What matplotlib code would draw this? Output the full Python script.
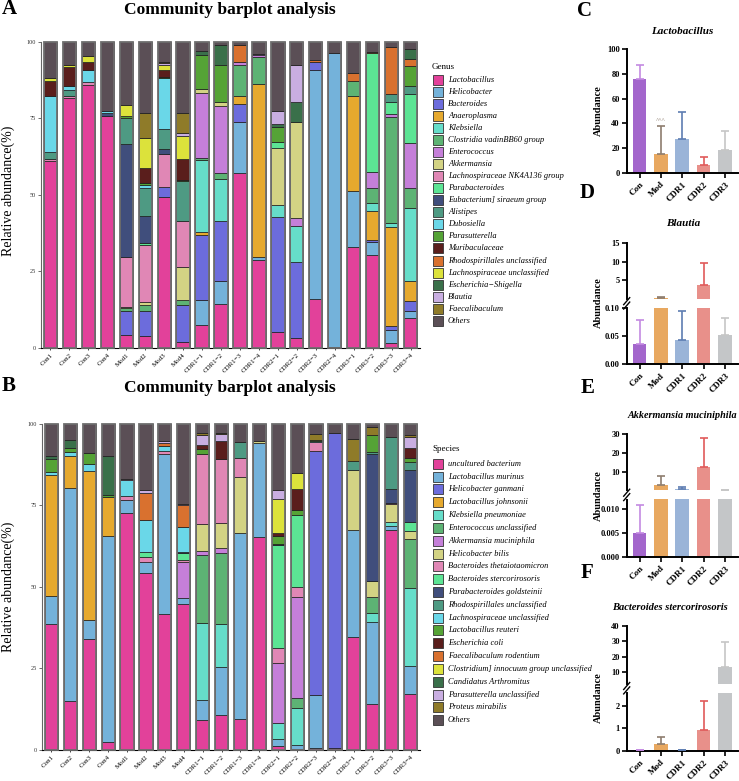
import numpy as np
import matplotlib
matplotlib.use('Agg')
import matplotlib.pyplot as plt
from matplotlib.lines import Line2D
from matplotlib.patches import Rectangle

plt.rcParams['font.family'] = ['Liberation Serif', 'DejaVu Serif']

# ---------------- data: panels A / B ----------------
samples = ['Con1', 'Con2', 'Con3', 'Con4', 'Mod1', 'Mod2', 'Mod3', 'Mod4',
           'CDR1−1', 'CDR1−2', 'CDR1−3', 'CDR1−4', 'CDR2−1', 'CDR2−2', 'CDR2−3', 'CDR2−4',
           'CDR3−1', 'CDR3−2', 'CDR3−3', 'CDR3−4']

genus_names = ['Lactobacillus', 'Helicobacter', 'Bacteroides', 'Anaeroplasma', 'Klebsiella',
               'Clostridia vadinBB60 group', 'Enterococcus', 'Akkermansia',
               'Lachnospiraceae NK4A136 group', 'Parabacteroides', 'Eubacterium] siraeum group',
               'Alistipes', 'Dubosiella', 'Parasutterella', 'Muribaculaceae',
               'Rhodospirillales unclassified', 'Lachnospiraceae unclassified',
               'Escherichia−Shigella', 'Blautia', 'Faecalibaculum', 'Others']

g_lactobacillus = [61.0, 81.7, 85.8, 75.9, 4.1, 3.9, 49.2, 2.0, 7.4, 14.4, 57.2, 28.6, 5.2, 3.2, 16.0, 0.2, 33.1, 30.4, 1.6, 9.7]
g_helicobacter = [0, 0, 0, 0, 0, 0, 0, 0, 8.3, 7.5, 16.5, 1.0, 0, 0, 74.8, 96.2, 18.2, 4.2, 4.2, 2.5]
g_bacteroides = [0, 0, 0, 0, 8.1, 8.1, 3.3, 11.9, 21.1, 19.7, 6.1, 0, 37.6, 24.8, 2.7, 0, 0, 0.8, 1.4, 3.2]
g_anaeroplasma = [0, 0, 0, 0, 0, 0, 0, 0, 1.0, 0, 2.4, 56.7, 0, 0, 0, 0, 31.1, 9.3, 32.2, 6.4]
g_klebsiella = [0, 0, 0, 0, 0, 0, 0, 0, 23.7, 13.6, 0, 0, 3.8, 11.8, 0, 0, 0, 2.7, 1.3, 24.1]
g_clostridia = [0, 0, 0, 0, 0.8, 2.2, 0, 1.9, 0.7, 1.9, 10.2, 8.8, 0, 0, 0, 0, 5.0, 4.9, 34.8, 6.4]
g_enterococcus = [0, 0, 0, 0, 0, 0, 0, 0, 21.1, 21.9, 1.2, 0.5, 0, 2.8, 0, 0, 0, 5.1, 1.1, 14.8]
g_akkermansia = [0, 0, 0, 0, 0.5, 0.8, 0, 10.6, 1.3, 1.5, 0, 0, 18.8, 31.1, 0, 0, 0, 0, 0, 0]
g_nk4a136 = [0.9, 0.8, 1.1, 0, 16.3, 18.6, 10.8, 15.0, 0, 0, 0, 0, 0, 0, 0, 0, 0, 0, 0, 0]
g_parabacteroides = [0, 0, 0, 0, 0, 0.6, 0, 0, 0, 0, 0, 0, 1.8, 0, 0, 0, 0, 39.0, 3.8, 15.8]
g_eubacterium = [0, 0, 0, 0.8, 36.9, 8.8, 1.7, 0, 0, 0, 0, 0, 0, 0, 0, 0, 0, 0, 0, 0]
g_alistipes = [2.1, 1.9, 0, 0, 8.5, 9.3, 6.6, 13.1, 0, 0, 0, 0, 0, 0, 0, 0, 0, 0, 2.6, 2.6]
g_dubosiella = [18.5, 1.1, 3.9, 0.6, 0, 0.9, 16.5, 0, 0, 0, 0, 0, 0, 0, 0, 0, 0, 0, 0, 0]
g_parasutterella = [0, 0, 0, 0, 0.5, 0.7, 0.6, 0.5, 11.3, 11.9, 0, 0, 5.0, 0, 0, 0, 0, 0, 0, 6.5]
g_muribaculaceae = [4.9, 6.2, 2.6, 0, 0, 4.8, 2.1, 6.8, 0, 0, 0, 0, 0, 0, 0, 0, 0, 0, 0, 0]
g_rhodospirillales = [0, 0, 0, 0, 0, 0, 0, 0, 0, 0, 5.3, 0, 0, 0, 0.5, 0, 2.6, 0.4, 15.4, 2.4]
g_lachno_uncl = [0.7, 0.8, 1.9, 0, 3.6, 9.9, 1.6, 7.6, 0, 0, 0, 0, 0, 0, 0, 0, 0, 0, 0, 0]
g_escherichia = [0, 0, 0, 0, 0, 0, 0, 0, 1.1, 6.5, 0, 0, 1.1, 6.7, 0, 0, 0, 0, 0, 3.3]
g_blautia = [0, 0, 0, 0, 0, 0, 0.6, 0.7, 0, 0, 0, 0.6, 4.0, 12.0, 0, 0, 0, 0, 0, 0]
g_faecalibaculum = [0, 0, 0, 0, 0, 8.1, 0.5, 6.7, 0, 0, 0, 0, 0, 0, 0, 0, 0, 0, 0, 0]
g_others = [11.9, 7.5, 4.7, 22.7, 20.7, 23.3, 6.5, 23.2, 3.0, 1.1, 1.1, 3.8, 22.7, 7.6, 6.0, 3.6, 10.0, 3.2, 1.6, 2.3]

species_names = ['uncultured bacterium', 'Lactobacillus murinus', 'Helicobacter ganmani',
                 'Lactobacillus johnsonii', 'Klebsiella pneumoniae', 'Enterococcus unclassified',
                 'Akkermansia muciniphila', 'Helicobacter bilis', 'Bacteroides thetaiotaomicron',
                 'Bacteroides stercorirosoris', 'Parabacteroides goldsteinii',
                 'Rhodospirillales unclassified', 'Lachnospiraceae unclassified',
                 'Lactobacillus reuteri', 'Escherichia coli', 'Faecalibaculum rodentium',
                 'Clostridium] innocuum group unclassified', 'Candidatus Arthromitus',
                 'Parasutterella unclassified', 'Proteus mirabilis', 'Others']

s_uncultured = [38.5, 15.0, 33.9, 2.5, 72.5, 54.3, 41.8, 44.7, 9.3, 10.7, 9.6, 65.3, 1.2, 0.2, 0.6, 0.7, 34.5, 14.1, 67.4, 17.2]
s_l_murinus = [8.6, 65.2, 5.9, 63.1, 4.1, 3.3, 48.9, 1.9, 6.1, 14.7, 57.0, 28.7, 2.1, 1.2, 16.2, 0, 33.0, 25.0, 1.4, 8.4]
s_h_ganmani = [0, 0, 0, 0, 0, 0, 0, 0, 0, 0, 0, 0, 0, 0, 74.7, 96.3, 0, 0, 0, 0]
s_l_johnsonii = [37.1, 9.8, 45.7, 11.9, 0, 0, 0, 0, 0, 0, 0, 0, 0, 0, 0, 0, 0, 0, 0, 0]
s_k_pneumoniae = [0, 0, 0, 0, 0, 0, 0, 0, 23.4, 13.1, 0, 0, 4.9, 11.5, 0, 0, 0, 2.8, 1.2, 23.9]
s_enterococcus = [0, 0, 0, 0, 0, 0, 0, 0, 21.0, 21.9, 0, 0, 0, 2.9, 0, 0, 0, 5.1, 0, 15.2]
s_a_muciniphila = [0, 0, 0, 0, 0, 0, 0, 10.9, 1.2, 1.4, 0, 0, 18.4, 31.1, 0, 0, 0, 0, 0, 0]
s_h_bilis = [0, 0, 0, 0, 0, 0, 0, 0, 8.3, 7.7, 17.0, 0.8, 0, 0, 0, 0, 18.3, 4.7, 5.3, 2.3]
s_b_theta = [0, 0, 0, 0, 1.3, 1.5, 0.8, 0.7, 21.3, 19.6, 5.8, 0, 4.8, 3.2, 3.0, 0, 0, 0, 0.4, 0]
s_b_sterc = [0, 0, 0, 0, 0, 1.5, 0, 2.1, 0, 0, 0, 0, 31.4, 21.8, 0, 0, 0, 0, 0, 3.0]
s_p_goldsteinii = [0, 0, 0, 0, 0, 0, 0, 0.4, 0, 0, 0, 0, 0.3, 0, 0, 0, 0, 39.1, 4.2, 15.8]
s_rhodo = [0, 0, 0, 0, 0, 0, 0, 0, 0, 0, 5.1, 0, 0, 0, 0, 0, 2.7, 0.5, 16.0, 2.5]
s_lachno = [1.0, 1.2, 2.0, 0, 4.7, 9.8, 1.8, 7.5, 0, 0, 0, 0, 0, 0, 0.3, 0, 0, 0, 0, 0]
s_l_reuteri = [4.0, 1.5, 3.5, 0.5, 0, 0, 0, 0, 1.5, 0, 0, 0, 2.6, 1.7, 0.3, 0, 0, 5.3, 0, 1.1]
s_e_coli = [0, 0, 0, 0, 0, 0, 0, 0, 1.4, 5.6, 0, 0, 0.9, 6.3, 0, 0, 0, 0, 0, 3.0]
s_f_rodentium = [0, 0, 0, 0, 0, 8.3, 0.7, 6.9, 0, 0, 0, 0, 0, 0, 0, 0, 0, 0, 0, 0]
s_c_innocuum = [0, 0, 0, 0, 0, 0, 0, 0, 0, 0, 0, 0, 10.2, 5.1, 0, 0, 0, 0, 0, 0]
s_arthromitus = [0.8, 2.4, 0, 12.0, 0, 0, 0, 0, 0, 0, 0, 0, 0, 0, 0, 0, 0, 0, 0, 0]
s_parasutterella = [0, 0, 0, 0, 0.6, 1.0, 0.8, 0.3, 3.0, 2.0, 0, 0, 3.0, 0, 0, 0, 0, 0, 0, 3.6]
s_proteus = [0, 0, 0, 0, 0, 0, 0, 0, 0.5, 0.5, 0, 0, 0, 0, 1.6, 0, 6.9, 2.5, 0, 0.6]
s_others = [10.0, 4.9, 9.0, 10.0, 16.8, 20.3, 5.2, 24.6, 3.0, 2.8, 5.5, 5.2, 20.2, 15.0, 3.3, 3.0, 4.6, 0.9, 4.1, 3.4]

palette = ['#E2419A', '#74B2DA', '#6C6CDC', '#E6A92E', '#66DDC9', '#5DB374', '#C57FD9',
           '#D3D384', '#E087B5', '#5CE494', '#404E7C', '#4E9A83', '#6AD7E8', '#55A336',
           '#5A1E1C', '#D9712F', '#DCE23B', '#3A704A', '#C9AEE1', '#8F7B29', '#5B4F56']

# ---------------- data: panels C-F ----------------
groups = ['Con', 'Mod', 'CDR1', 'CDR2', 'CDR3']
lacto_mean = [76.0, 15.0, 27.0, 6.0, 18.5]
lacto_err = [11.0, 23.0, 22.0, 7.0, 15.5]
blautia_mean = [0.035, 0.35, 0.042, 3.9, 0.052]
blautia_err = [0.043, 0.40, 0.053, 5.8, 0.029]
akk_mean = [0.005, 2.9, 0.7, 12.5, 0.25]
akk_err = [0.0058, 5.0, 0.9, 15.4, 0.15]
bster_mean = [0.02, 0.28, 0.02, 0.95, 13.0]
bster_err = [0.0, 0.32, 0.0, 1.3, 16.3]

bar_colors = ['#A366CC', '#E8A860', '#9AB4D8', '#E8908A', '#C4C6C8']
err_colors = ['#C48AE2', '#8E7D6E', '#5D7DB2', '#E05A5A', '#C6C6C6']

# ---------------- figure ----------------
W, H = 739, 781
fig = plt.figure(figsize=(W / 100, H / 100), dpi=100)


def box(l, t, r, b):
    return [l / W, 1 - b / H, (r - l) / W, (b - t) / H]


def ftxt(x, y, s, **kw):
    fig.text(x / W, 1 - y / H, s, **kw)


def stacked(ax, series):
    x = np.arange(len(samples))
    bottom = np.zeros(len(samples))
    for vals, c in zip(series, palette):
        v = np.array(vals, float)
        m = v > 0
        ax.bar(x[m], v[m], bottom=bottom[m], width=0.7, color=c,
               edgecolor='#1a1a1a', linewidth=0.5, zorder=2)
        bottom += v
    ax.bar(x, bottom, width=0.7, fill=False, edgecolor='#6e6e6e',
           linewidth=1.3, zorder=3, clip_on=False)
    ax.set_xlim(-0.5, len(samples) - 0.5)
    ax.set_ylim(0, 100)
    for s in ['top', 'right']:
        ax.spines[s].set_visible(False)
    ax.spines['left'].set_color('#666666')
    ax.spines['left'].set_linewidth(0.8)
    ax.spines['bottom'].set_linewidth(0.8)
    ax.set_yticks([0, 25, 50, 75, 100])
    ax.tick_params(axis='y', labelsize=4.5, length=2, width=0.5, pad=1.5, colors='#333333')
    ax.set_xticks(x)
    ax.set_xticklabels(samples, rotation=45, ha='right', rotation_mode='anchor', fontsize=5)
    ax.tick_params(axis='x', length=1.5, width=0.5, pad=1.5)


def legend(title, names, title_y, first_y, step):
    ftxt(432, title_y, title, fontsize=6.5, va='center', ha='left')
    for i, (n, c) in enumerate(zip(names, palette)):
        y = first_y + i * step
        fig.patches.append(Rectangle((433 / W, 1 - (y + 5) / H), 10.5 / W, 10 / H,
                                     transform=fig.transFigure, facecolor=c,
                                     edgecolor='#333333', linewidth=0.6))
        ftxt(448, y, n, fontsize=6, style='italic', va='center', ha='left')


# Panel A
axA = fig.add_axes(box(41, 42, 420, 348))
stacked(axA, [g_lactobacillus, g_helicobacter, g_bacteroides, g_anaeroplasma, g_klebsiella,
              g_clostridia, g_enterococcus, g_akkermansia, g_nk4a136, g_parabacteroides,
              g_eubacterium, g_alistipes, g_dubosiella, g_parasutterella, g_muribaculaceae,
              g_rhodospirillales, g_lachno_uncl, g_escherichia, g_blautia, g_faecalibaculum,
              g_others])
ftxt(2, 9, 'A', fontsize=15, fontweight='bold', va='center', ha='left')
ftxt(230, 10, 'Community barplot analysis', fontsize=12.5, fontweight='bold', va='center', ha='center')
ftxt(8, 191, 'Relative abundance(%)', fontsize=10, rotation=90, va='center', ha='center')
legend('Genus', genus_names, 67, 79.5, 12.07)

# Panel B
axB = fig.add_axes(box(42, 423.7, 420, 750))
stacked(axB, [s_uncultured, s_l_murinus, s_h_ganmani, s_l_johnsonii, s_k_pneumoniae,
              s_enterococcus, s_a_muciniphila, s_h_bilis, s_b_theta, s_b_sterc,
              s_p_goldsteinii, s_rhodo, s_lachno, s_l_reuteri, s_e_coli, s_f_rodentium,
              s_c_innocuum, s_arthromitus, s_parasutterella, s_proteus, s_others])
ftxt(2, 386, 'B', fontsize=15, fontweight='bold', va='center', ha='left')
ftxt(230, 388, 'Community barplot analysis', fontsize=12.5, fontweight='bold', va='center', ha='center')
ftxt(8, 587, 'Relative abundance(%)', fontsize=10, rotation=90, va='center', ha='center')
legend('Species', species_names, 449.3, 463.7, 12.83)

# ---------------- panels C-F ----------------
XL, XR = 626.7, 737.7


def bars(ax, means, errs, show_x, ylim):
    x = np.arange(len(groups))
    ax.bar(x, means, width=0.64, color=bar_colors, zorder=2)
    lo, hi = ylim
    for i in range(len(groups)):
        top = means[i] + errs[i]
        # draw the error bar only where its cap falls inside this axis' range
        if top < lo or means[i] >= hi:
            continue
        ax.errorbar(x[i], means[i], yerr=[[0], [errs[i]]], fmt='none',
                    ecolor=err_colors[i], elinewidth=1.2, capsize=2.6, capthick=1.2, zorder=3)
    ax.set_ylim(lo, hi)
    ax.set_xlim(-0.6, 4.6)
    for s in ['top', 'right']:
        ax.spines[s].set_visible(False)
    ax.spines['left'].set_linewidth(1.4)
    ax.spines['bottom'].set_linewidth(1.4)
    ax.tick_params(axis='y', labelsize=6, length=3.5, width=1.2, pad=1.5)
    if show_x:
        ax.set_xticks(x)
        ax.set_xticklabels(groups, rotation=45, ha='right', rotation_mode='anchor',
                           fontsize=6.5, fontweight='bold')
        ax.tick_params(axis='x', length=3.5, width=1.2, pad=2)
    else:
        ax.set_xticks([])
        ax.spines['bottom'].set_visible(False)


def breakmark(y):
    for dy in (-2.2, 2.2):
        yc = y + dy
        fig.add_artist(Line2D([(XL - 3) / W, (XL + 3) / W], [1 - (yc + 3.5) / H, 1 - (yc - 3.5) / H],
                              transform=fig.transFigure, color='black', linewidth=1.0))


def panel_title(x, y, s, size=8.0):
    ftxt(x, y, s, fontsize=size, fontweight='bold', style='italic', va='center', ha='center')


def panel_letter(x, y, s):
    ftxt(x, y, s, fontsize=15, fontweight='bold', va='center', ha='center')


def ylab(y):
    ftxt(598, y, 'Abundance', fontsize=7.5, fontweight='bold', rotation=90, va='center', ha='center')


# C
axC = fig.add_axes(box(XL, 49.3, XR, 172.7))
bars(axC, lacto_mean, lacto_err, True, (0, 100))
axC.set_yticks([0, 20, 40, 60, 80, 100])
axC.set_yticklabels(['0', '20', '40', '60', '80', '100'], fontweight='bold')
axC.text(1, 40.5, '^^^', fontsize=5, color='#8E7D6E', ha='center', va='bottom')
panel_letter(585, 11, 'C')
panel_title(682, 32, 'Lactobacillus')
ylab(111)


def broken(hi_tb, lo_tb, means, errs, hi_lim, hi_ticks, hi_labels, lo_lim, lo_ticks, lo_labels):
    ax_hi = fig.add_axes(box(XL, hi_tb[0], XR, hi_tb[1]))
    ax_lo = fig.add_axes(box(XL, lo_tb[0], XR, lo_tb[1]))
    bars(ax_hi, means, errs, False, hi_lim)
    bars(ax_lo, means, errs, True, lo_lim)
    ax_hi.set_yticks(hi_ticks)
    ax_hi.set_yticklabels(hi_labels, fontweight='bold')
    ax_lo.set_yticks(lo_ticks)
    ax_lo.set_yticklabels(lo_labels, fontweight='bold')
    breakmark((hi_tb[1] + lo_tb[0]) / 2)
    return ax_hi, ax_lo


# D
broken((242.7, 299), (307.7, 364), blautia_mean, blautia_err,
       (0.1, 15), [5, 10, 15], ['5', '10', '15'],
       (0, 0.1), [0, 0.05, 0.10], ['0.00', '0.05', '0.10'])
panel_letter(587, 193, 'D')
panel_title(683, 224, 'Blautia')
ylab(303)

# E
broken((434.3, 490.3), (499.5, 556.7), akk_mean, akk_err,
       (0.05, 30), [10, 20, 30], ['10', '20', '30'],
       (0, 0.012), [0, 0.005, 0.010], ['0.000', '0.005', '0.010'])
panel_letter(588, 388, 'E')
panel_title(682, 416, 'Akkermansia muciniphila', size=7.3)
ylab(496)

# F
broken((626, 683.7), (692.7, 750.7), bster_mean, bster_err,
       (2.35, 40), [10, 20, 30, 40], ['10', '20', '30', '40'],
       (0, 2.6), [0, 1, 2], ['0', '1', '2'])
panel_letter(587, 573, 'F')
panel_title(670, 608, 'Bacteroides stercorirosoris', size=7.6)
ylab(698)

fig.savefig('out.png', dpi=100)
